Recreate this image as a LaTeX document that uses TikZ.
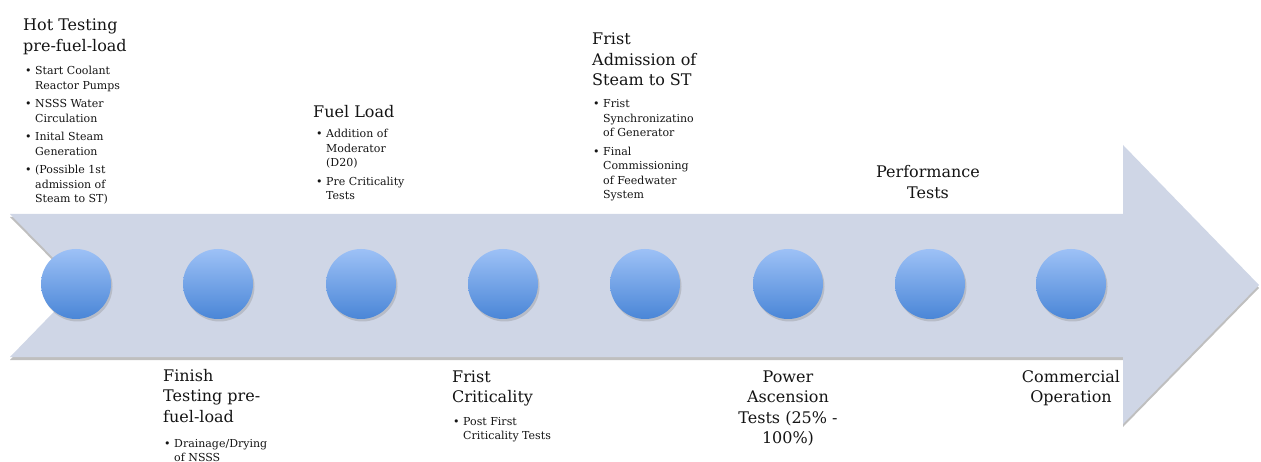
\documentclass[tikz,border=0pt]{standalone}
\usepackage{fontspec}
\setmainfont{DejaVu Serif}
\usetikzlibrary{shadows}
\definecolor{arrowfill}{HTML}{CFD6E6}
\definecolor{balltop}{HTML}{9DC1F6}
\definecolor{ballbot}{HTML}{4A86D7}
\definecolor{txt}{HTML}{141414}
\newcommand\bt{\makebox[10pt][l]{\textbullet}}
\newcommand\bi{\hspace*{10pt}}
\tikzset{
  ball/.style={circle, minimum size=70pt, inner sep=0pt, top color=balltop, bottom color=ballbot, draw=none,
    drop shadow={opacity=0.3, shadow xshift=1.5pt, shadow yshift=-2.5pt}},
  ttl/.style={inner sep=0pt, anchor=base west, text=txt, font=\fontsize{16}{20.5}\selectfont},
  ttlc/.style={ttl, anchor=base},
  lst/.style={inner sep=0pt, anchor=base west, text=txt, font=\fontsize{11}{14.5}\selectfont},
}
\begin{document}
\begin{tikzpicture}[x=1pt,y=-1pt]
\clip (0,0) rectangle (1261,462);
% big arrow
\fill[arrowfill, drop shadow={opacity=0.5, shadow xshift=0pt, shadow yshift=-3pt}]
  (10,214) -- (1123,214) -- (1123,145) -- (1259,285) -- (1123,424) -- (1123,357) -- (10,357) -- (80,285) -- cycle;
% milestones
\foreach \i/\x in {1/76,2/218,3/361,4/503,5/645,6/788,7/930,8/1071}
  \node[ball] (c\i) at (\x,284) {};
% top texts
\node[ttl] (t1) at (23,31) {\begin{tabular}[t]{@{}l@{}}Hot Testing\\pre-fuel-load\end{tabular}};
\node[lst] (l1) at (25,75) {\begin{tabular}[t]{@{}l@{}}
\bt Start Coolant\\ \bi Reactor Pumps\\[4pt]
\bt NSSS Water\\ \bi Circulation\\[4pt]
\bt Inital Steam\\ \bi Generation\\[4pt]
\bt (Possible 1st\\ \bi admission of\\ \bi Steam to ST)\end{tabular}};
\node[ttl] (t3) at (313,118) {\begin{tabular}[t]{@{}l@{}}Fuel Load\end{tabular}};
\node[lst] (l3) at (316,138) {\begin{tabular}[t]{@{}l@{}}
\bt Addition of\\ \bi Moderator\\ \bi (D20)\\[4pt]
\bt Pre Criticality\\ \bi Tests\end{tabular}};
\node[ttl] (t5) at (592,45) {\begin{tabular}[t]{@{}l@{}}Frist\\Admission of\\Steam to ST\end{tabular}};
\node[lst] (l5) at (593,108) {\begin{tabular}[t]{@{}l@{}}
\bt Frist\\ \bi Synchronizatino\\ \bi of Generator\\[4pt]
\bt Final\\ \bi Commissioning\\ \bi of Feedwater\\ \bi System\end{tabular}};
\node[ttlc] (t7) at (928,178) {\begin{tabular}[t]{@{}c@{}}Performance\\Tests\end{tabular}};
% bottom texts
\node[ttl] (t2) at (163,381) {\begin{tabular}[t]{@{}l@{}}Finish\\Testing pre-\\fuel-load\end{tabular}};
\node[lst] (l2) at (164,447) {\begin{tabular}[t]{@{}l@{}}
\bt Drainage/Drying\\ \bi of NSSS\end{tabular}};
\node[ttl] (t4) at (452,382) {\begin{tabular}[t]{@{}l@{}}Frist\\Criticality\end{tabular}};
\node[lst] (l4) at (453,425) {\begin{tabular}[t]{@{}l@{}}
\bt Post First\\ \bi Criticality Tests\end{tabular}};
\node[ttlc] (t6) at (788,382) {\begin{tabular}[t]{@{}c@{}}Power\\Ascension\\Tests (25\% -\\100\%)\end{tabular}};
\node[ttlc] (t8) at (1071,382) {\begin{tabular}[t]{@{}c@{}}Commercial\\Operation\end{tabular}};
\end{tikzpicture}
\end{document}
